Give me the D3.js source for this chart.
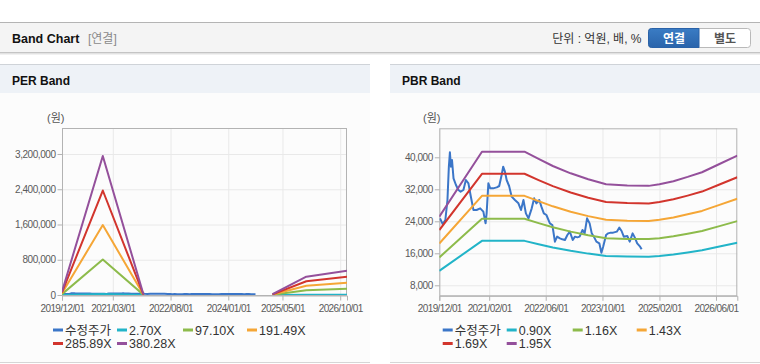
<!DOCTYPE html>
<html><head><meta charset="utf-8">
<script src="https://cdn.jsdelivr.net/npm/d3@7"></script>
<style>
body{margin:0;background:#fff;}
svg{display:block;font-family:"Liberation Sans",Arial,"Noto Sans CJK KR",sans-serif;}
</style></head><body>
<svg id="c" width="760" height="364"></svg>
<script>
// ---------- DATA ----------
const xTickLabelsPER = ["2019/12/01","2021/03/01","2022/08/01","2024/01/01","2025/05/01","2026/10/01"];
const xTickLabelsPBR = ["2019/12/01","2021/02/01","2022/06/01","2023/10/01","2025/02/01","2026/06/01"];
const perYTicks = [0, 800000, 1600000, 2400000, 3200000];
const pbrYTicks = [8000, 16000, 24000, 32000, 40000];

const perLegend = ["수정주가","2.70X","97.10X","191.49X","285.89X","380.28X"];
const pbrLegend = ["수정주가","0.90X","1.16X","1.43X","1.69X","1.95X"];

// PER band (원)
const perDates = ["2019-12-01","2020-12-01","2021-12-01","2022-12-01","2023-12-01","2024-12-01","2025-02-01","2025-12-01","2026-12-01"];
const per270  = [540,   22397,   81,   null,null,null, 135,   2948,   3915];
const per9710 = [19420, 805445,  2913, null,null,null, 4855,  106033, 140795];
const per19149= [38298, 1588410, 5745, null,null,null, 9575,  209107, 277661];
const per28589= [57178, 2371458, 8577, null,null,null, 14295, 312192, 414541];
const per38028= [76056, 3154423, 11408,null,null,null, 19014, 415266, 551406];

// PBR band (원)
const pbrDates = ["2019-12-01","2020-12-01","2021-12-01","2022-04-01","2022-08-01","2023-01-01","2023-06-01","2023-11-01","2024-05-01","2024-11-01","2025-02-01","2025-06-01","2025-10-01","2026-02-01","2026-07-01","2026-12-01"];
const pbr090 = [11610,19107,19107,18270,17460,16614,15921,15345,15210,15165,15345,15705,16200,16740,17685,18648];
const pbr116 = [14964,24627,24627,23548,22504,21414,20520,19778,19604,19546,19778,20242,20880,21576,22794,24035];
const pbr143 = [18447,30359,30359,29029,27742,26398,25297,24382,24167,24096,24382,24954,25740,26598,28100,29630];
const pbr169 = [21801,35879,35879,34307,32786,31197,29896,28815,28561,28477,28815,29491,30420,31434,33209,35017];
const pbr195 = [25155,41399,41399,39585,37830,35997,34496,33248,32955,32858,33248,34028,35100,36270,38318,40404];

// 수정주가 (adjusted price)
const priceDates = ["2019-12-07","2019-12-30","2020-01-22","2020-02-09","2020-02-21","2020-03-01","2020-03-10","2020-03-19","2020-04-01","2020-04-22","2020-05-13","2020-06-01","2020-06-25","2020-07-16","2020-08-07","2020-08-25","2020-09-19","2020-10-16","2020-11-16","2020-12-13","2021-01-01","2021-01-10","2021-01-25","2021-02-10","2021-03-07","2021-04-07","2021-04-28","2021-05-19","2021-06-01","2021-06-16","2021-07-01","2021-07-22","2021-08-13","2021-09-10","2021-10-10","2021-11-01","2021-11-22","2021-12-13","2022-01-04","2022-02-01","2022-02-22","2022-03-13","2022-04-07","2022-04-25","2022-05-16","2022-06-07","2022-07-07","2022-07-28","2022-08-19","2022-09-07","2022-10-01","2022-10-22","2022-11-13","2022-12-04","2022-12-25","2023-01-19","2023-02-07","2023-02-28","2023-03-19","2023-04-13","2023-05-01","2023-05-22","2023-06-13","2023-07-01","2023-07-19","2023-08-10","2023-09-04","2023-09-22","2023-10-07","2023-11-01","2023-11-19","2023-12-10","2024-01-01","2024-02-01","2024-02-22","2024-03-13","2024-04-01","2024-05-01","2024-05-22","2024-06-16","2024-07-04","2024-07-25","2024-08-19","2024-09-01"];
const priceValues = [24740,23325,24325,29325,37660,41240,37660,39325,34740,33075,31825,31410,31825,34325,33490,30575,26825,26825,27240,26410,23490,25990,33490,32240,32240,32490,32825,35575,37660,36410,34325,32825,30160,29325,28490,26825,29325,25990,24740,27240,29740,28490,29325,27660,25990,25575,23490,23075,18910,20160,19740,19490,19325,20575,21410,19325,20160,19990,20160,21825,20990,24740,23490,20990,20160,18910,18490,16160,17660,20575,20990,21160,21160,21410,22410,21575,20160,20325,18910,20990,19990,18490,17660,16990];

const colors = ["#3b76c8","#22b4c8","#8dbb4b","#f5a636","#d2352d","#94509b"];

// ---------- DRAW ----------
const svg = d3.select("#c");
const parse = d3.timeParse("%Y-%m-%d");
const parseTick = d3.timeParse("%Y/%m/%d");

// top header
svg.append("line").attr("x1",0).attr("x2",760).attr("y1",22.5).attr("y2",22.5).attr("stroke","#b4b4b4");
svg.append("rect").attr("x",0).attr("y",23).attr("width",760).attr("height",30).attr("fill","#f4f4f4");
svg.append("line").attr("x1",0).attr("x2",760).attr("y1",52.5).attr("y2",52.5).attr("stroke","#c4c4c4");
svg.append("line").attr("x1",0).attr("x2",760).attr("y1",53.5).attr("y2",53.5).attr("stroke","#e2e2e2");
svg.append("line").attr("x1",0).attr("x2",760).attr("y1",54.5).attr("y2",54.5).attr("stroke","#f1f1f1");
svg.append("text").attr("x",12).attr("y",42.5).attr("font-size",12.5).attr("font-weight","bold").attr("fill","#111").text("Band Chart");
svg.append("text").attr("x",88).attr("y",42.5).attr("font-size",12).attr("fill","#8a8a8a").text("[연결]");
svg.append("text").attr("x",641.5).attr("y",42.5).attr("font-size",12).attr("text-anchor","end").attr("fill","#333").text("단위 : 억원, 배, %");

// buttons
const defs = svg.append("defs");
const g1 = defs.append("linearGradient").attr("id","btnBlue").attr("x1",0).attr("x2",0).attr("y1",0).attr("y2",1);
g1.append("stop").attr("offset","0%").attr("stop-color","#3a7cc4");
g1.append("stop").attr("offset","100%").attr("stop-color","#2a64ab");
svg.append("rect").attr("x",648.5).attr("y",28.5).attr("width",102).attr("height",19).attr("rx",3).attr("fill","#fff").attr("stroke","#b9b9b9");
svg.append("path").attr("d","M699,28.5 H651.5 Q648.5,28.5 648.5,31.5 V44.5 Q648.5,47.5 651.5,47.5 H699 Z").attr("fill","url(#btnBlue)").attr("stroke","#2a62a8");
svg.append("text").attr("x",674).attr("y",42.5).attr("font-size",12).attr("font-weight","bold").attr("text-anchor","middle").attr("fill","#fff").text("연결");
svg.append("text").attr("x",725).attr("y",42.5).attr("font-size",12).attr("font-weight","bold").attr("text-anchor","middle").attr("fill","#555").text("별도");

function panel(x0, w, title) {
  svg.append("rect").attr("x",x0).attr("y",64).attr("width",w).attr("height",298).attr("fill","#fcfcfc");
  svg.append("rect").attr("x",x0).attr("y",64.5).attr("width",w).attr("height",28.5).attr("fill","#eef2f7");
  svg.append("line").attr("x1",x0).attr("x2",x0+w).attr("y1",64.5).attr("y2",64.5).attr("stroke","#cfd3d8");
  svg.append("line").attr("x1",x0).attr("x2",x0+w).attr("y1",362.5).attr("y2",362.5).attr("stroke","#d6d6d6");
  svg.append("text").attr("x",x0+12).attr("y",84.5).attr("font-size",12).attr("font-weight","bold").attr("fill","#111").text(title);
}
panel(0,370,"PER Band");
panel(390,370,"PBR Band");

function chart(cfg) {
  const x = d3.scaleTime().domain([parse("2019-12-01"), parse("2026-12-01")]).range([cfg.left, cfg.right]);
  const y = d3.scaleLinear().domain(cfg.yDomain).range([cfg.bottom, cfg.top]);
  const g = svg.append("g");
  const tickDates = cfg.xTicks.map(parseTick);

  // grid
  g.append("g").attr("transform",`translate(${cfg.left},0)`)
    .call(d3.axisLeft(y).tickValues(cfg.yTicks).tickSize(-(cfg.right-cfg.left)).tickFormat(""))
    .call(a=>a.select(".domain").remove())
    .call(a=>a.selectAll("line").attr("stroke","#e9e9e9"));
  g.append("g").attr("transform",`translate(0,${cfg.bottom})`)
    .call(d3.axisBottom(x).tickValues(tickDates).tickSize(-(cfg.bottom-cfg.top)).tickFormat(""))
    .call(a=>a.select(".domain").remove())
    .call(a=>a.selectAll("line").attr("stroke","#e9e9e9"));

  // frame
  g.append("rect").attr("x",cfg.left+0.5).attr("y",cfg.top+0.5).attr("width",cfg.right-cfg.left-1).attr("height",cfg.bottom-cfg.top)
    .attr("fill","none").attr("stroke","#b3b3b3");

  // axes
  const ya = g.append("g").attr("transform",`translate(${cfg.left+0.5},0)`)
    .call(d3.axisLeft(y).tickValues(cfg.yTicks).tickSize(5).tickPadding(2).tickFormat(d3.format(",")));
  ya.select(".domain").remove();
  ya.selectAll("line").attr("stroke","#b3b3b3");
  ya.selectAll("text").attr("fill","#5a5a5a").attr("font-size",10).attr("letter-spacing","-0.45px").attr("font-family","Liberation Sans, Arial, sans-serif");
  const xa = g.append("g").attr("transform",`translate(0,${cfg.bottom+0.5})`)
    .call(d3.axisBottom(x).tickValues(tickDates).tickSize(5).tickPadding(4).tickFormat((d,i)=>cfg.xTicks[i]));
  xa.select(".domain").attr("stroke","#b3b3b3");
  xa.selectAll("line").attr("stroke","#b3b3b3");
  xa.selectAll("text").attr("fill","#5a5a5a").attr("font-size",10).attr("letter-spacing","-0.6px").attr("font-family","Liberation Sans, Arial, sans-serif");

  g.append("text").attr("x",cfg.unitX).attr("y",122).attr("font-size",11).attr("fill","#555").text("(원)");

  const clip = "clip"+Math.round(cfg.left);
  defs.append("clipPath").attr("id",clip).append("rect").attr("x",cfg.left).attr("y",cfg.top).attr("width",cfg.right-cfg.left).attr("height",cfg.bottom-cfg.top);
  const plot = g.append("g").attr("clip-path",`url(#${clip})`);

  const line = d3.line().defined(d=>d.v!=null).x(d=>x(d.t)).y(d=>y(d.v));
  // price
  const price = priceDates.map((s,i)=>({t:parse(s), v:priceValues[i]}));
  plot.append("path").datum(price).attr("d",line).attr("fill","none").attr("stroke",colors[0]).attr("stroke-width",2).attr("stroke-linejoin","round");
  cfg.bands.forEach((arr,k)=>{
    const pts = cfg.dates.map((s,i)=>({t:parse(s), v:arr[i]}));
    plot.append("path").datum(pts).attr("d",line).attr("fill","none").attr("stroke",colors[k+1]).attr("stroke-width",2).attr("stroke-linejoin","round");
  });

  // legend
  const colX = [0, 64, 130, 194];
  cfg.legend.forEach((name,i)=>{
    const row = Math.floor(i/4), col = i%4;
    const lx = cfg.legendX + colX[col], ly = 330 + row*13.5;
    g.append("line").attr("x1",lx).attr("x2",lx+10).attr("y1",ly).attr("y2",ly).attr("stroke",colors[i]).attr("stroke-width",3);
    g.append("text").attr("x",lx+12).attr("y",ly+4.5).attr("font-size",12.5).attr("fill","#333").text(name);
  });
}

chart({left:62, right:347, top:128, bottom:295, yDomain:[0,3790000], yTicks:perYTicks, xTicks:xTickLabelsPER,
  unitX:47, dates:perDates, bands:[per270,per9710,per19149,per28589,per38028], legend:perLegend, legendX:53});
chart({left:439.3, right:737.3, top:128.3, bottom:295.3, yDomain:[5500,47250], yTicks:pbrYTicks, xTicks:xTickLabelsPBR,
  unitX:423, dates:pbrDates, bands:[pbr090,pbr116,pbr143,pbr169,pbr195], legend:pbrLegend, legendX:442.7});
</script>
</body></html>
